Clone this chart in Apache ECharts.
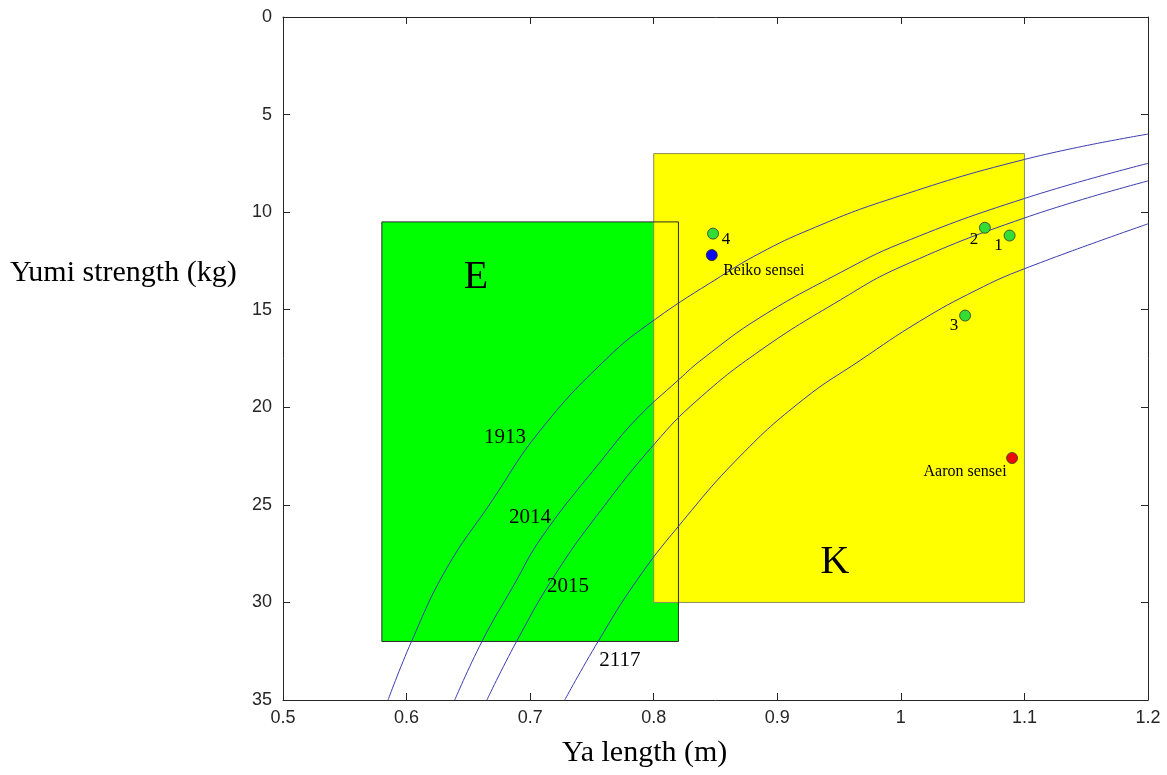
<!DOCTYPE html>
<html>
<head>
<meta charset="utf-8">
<script src="https://cdn.jsdelivr.net/npm/echarts@6/dist/echarts.min.js"></script>
<style>
html,body{margin:0;padding:0;background:#fff;}
#chart{width:1167px;height:775px;}
</style>
</head>
<body>
<div id="chart"></div>
<script>
// ---- data ----
var xTicks = [0.5, 0.6, 0.7, 0.8, 0.9, 1.0, 1.1, 1.2];
var yTicks = [0, 5, 10, 15, 20, 25, 30, 35];

var curveNames = ['1913', '2014', '2015', '2117'];
var curve1913 = [[0.585,35],[0.604,32.0],[0.632,28.3],[0.668,24.9],[0.708,21.2],[0.762,17.5],[0.801,15.5],[0.854,13.3],[0.886,12.1],[0.926,10.9],[0.988,9.4],[1.1,7.3],[1.2,6.0]];
var curve2014 = [[0.639,35],[0.661,32.0],[0.686,29.2],[0.710,26.6],[0.758,22.7],[0.786,20.6],[0.820,18.6],[0.840,17.5],[0.886,15.4],[0.951,13.1],[1.0,11.6],[1.1,9.3],[1.2,7.5]];
var curve2015 = [[0.665,35],[0.689,32.0],[0.721,28.5],[0.757,25.3],[0.801,21.85],[0.835,19.65],[0.886,17.1],[0.951,14.5],[1.0,12.8],[1.1,10.3],[1.2,8.4]];
var curve2117 = [[0.728,35],[0.755,32.0],[0.786,28.9],[0.820,26.1],[0.870,22.5],[0.921,19.6],[0.967,17.6],[1.015,15.6],[1.061,14.0],[1.1,12.9],[1.2,10.6]];
var curves = [curve1913, curve2014, curve2015, curve2117];
var curveLabelPos = [[0.6797,21.53],[0.6999,25.63],[0.7306,29.16],[0.7727,32.96]];

// rectangles: [xMin, xMax, yMin, yMax]
var rectE = [0.58, 0.82, 10.5, 32];
var rectK = [0.80, 1.10, 7, 30];
var regionLabels = ['E', 'K'];
var regionLabelPos = [[0.6562,13.33],[0.9467,27.93]];

var greenNames = ['4', '2', '1', '3'];
var greenPts = [[0.848,11.1],[1.068,10.8],[1.088,11.2],[1.052,15.3]];
var bluePt = [[0.847,12.2]];
var blueName = ['Reiko sensei'];
var redPt = [[1.090,22.6]];
var redName = ['Aaron sensei'];

// ---- styles ----
var serif = '"Liberation Serif","DejaVu Serif",serif';
var sans = '"Liberation Sans",Arial,sans-serif';
var axisCol = '#262626';
var greenLabelOffsets = [[13,6],[-11,12],[-11,10],[-11,10]];

function txt(size, extra) {
  var o = { show: true, position: 'inside', formatter: '{b}', fontFamily: serif, fontSize: size,
    color: '#000', textBorderWidth: 0, textBorderColor: 'transparent', textShadowBlur: 0, opacity: 1 };
  if (extra) for (var k in extra) o[k] = extra[k];
  return o;
}

function rectSeries(r, fill, stroke, z, noFill) {
  return {
    type: 'custom', z: z, silent: true,
    data: [r],
    clip: true,
    renderItem: function (params, api) {
      var p0 = api.coord([api.value(0), api.value(2)]);
      var p1 = api.coord([api.value(1), api.value(3)]);
      return {
        type: 'rect',
        shape: { x: Math.min(p0[0],p1[0]), y: Math.min(p0[1],p1[1]), width: Math.abs(p1[0]-p0[0]), height: Math.abs(p1[1]-p0[1]) },
        style: { fill: noFill ? 'none' : fill, stroke: stroke, lineWidth: 1 }
      };
    },
    encode: { x: [0,1], y: [2,3] }
  };
}

var series = [];
series.push(rectSeries(rectE, '#00ff00', null, 1, false));
series.push(rectSeries(rectK, '#ffff00', '#8c8a5c', 2, false));
series.push(rectSeries(rectE, null, '#2a2a2a', 3, true));

curves.forEach(function (c, i) {
  series.push({
    type: 'line', name: curveNames[i], data: c, z: 4,
    smooth: 0.45, showSymbol: false, silent: true,
    lineStyle: { color: '#3b3bb0', width: 1 }
  });
});

// curve labels
series.push({
  type: 'scatter', z: 6, silent: true, symbolSize: 0,
  itemStyle: { color: 'transparent' },
  data: curveLabelPos.map(function (p, i) { return { value: p, name: curveNames[i] }; }),
  label: txt(21)
});
// region labels
series.push({
  type: 'scatter', z: 6, silent: true, symbolSize: 0,
  itemStyle: { color: 'transparent' },
  data: regionLabelPos.map(function (p, i) { return { value: p, name: regionLabels[i] }; }),
  label: txt(40)
});

// points
series.push({
  type: 'scatter', z: 7, silent: true, symbolSize: 11,
  itemStyle: { color: '#33dd33', borderColor: '#333', borderWidth: 0.8, opacity: 1 },
  data: greenPts.map(function (p, i) {
    return { value: p, name: greenNames[i], label: txt(17, { offset: greenLabelOffsets[i] }) };
  })
});
series.push({
  type: 'scatter', z: 7, silent: true, symbolSize: 11,
  itemStyle: { color: '#0a0aee', borderColor: '#222', borderWidth: 0.8, opacity: 1 },
  data: bluePt.map(function (p, i) {
    return { value: p, name: blueName[i], label: txt(16, { offset: [52,16] }) };
  })
});
series.push({
  type: 'scatter', z: 7, silent: true, symbolSize: 11,
  itemStyle: { color: '#ee0a0a', borderColor: '#333', borderWidth: 0.8, opacity: 1 },
  data: redPt.map(function (p, i) {
    return { value: p, name: redName[i], label: txt(16, { offset: [-47,14] }) };
  })
});

function fmtX(v) { return String(+v.toFixed(1)); }

var chart = echarts.init(document.getElementById('chart'), null, { renderer: 'canvas' });
chart.setOption({
  animation: false,
  backgroundColor: '#ffffff',
  grid: { left: 283, right: 19, top: 17, bottom: 75, containLabel: false },
  xAxis: [{
    type: 'value', position: 'bottom', min: xTicks[0], max: xTicks[xTicks.length-1], interval: 0.1,
    axisLine: { show: true, onZero: false, lineStyle: { color: axisCol, width: 1 } },
    axisTick: { show: true, inside: true, length: 7, lineStyle: { color: axisCol } },
    axisLabel: { formatter: fmtX, fontFamily: sans, fontSize: 18, color: axisCol, margin: 9 },
    splitLine: { show: false }
  }, {
    type: 'value', position: 'top', min: xTicks[0], max: xTicks[xTicks.length-1], interval: 0.1,
    axisLine: { show: true, onZero: false, lineStyle: { color: axisCol, width: 1 } },
    axisTick: { show: true, inside: true, length: 7, lineStyle: { color: axisCol } },
    axisLabel: { show: false }, splitLine: { show: false }
  }],
  yAxis: [{
    type: 'value', position: 'left', inverse: true, min: yTicks[0], max: yTicks[yTicks.length-1], interval: 5,
    axisLine: { show: true, onZero: false, lineStyle: { color: axisCol, width: 1 } },
    axisTick: { show: true, inside: true, length: 7, lineStyle: { color: axisCol } },
    axisLabel: { fontFamily: sans, fontSize: 18, color: axisCol, margin: 11 },
    splitLine: { show: false }
  }, {
    type: 'value', position: 'right', inverse: true, min: yTicks[0], max: yTicks[yTicks.length-1], interval: 5,
    axisLine: { show: true, onZero: false, lineStyle: { color: axisCol, width: 1 } },
    axisTick: { show: true, inside: true, length: 7, lineStyle: { color: axisCol } },
    axisLabel: { show: false }, splitLine: { show: false }
  }],
  graphic: [
    { type: 'text', left: 10, top: 258, z: 10,
      style: { text: 'Yumi strength (kg)', font: '30px ' + serif, fill: '#000' } },
    { type: 'text', left: 562, top: 738, z: 10,
      style: { text: 'Ya length (m)', font: '30px ' + serif, fill: '#000' } }
  ],
  series: series
});
</script>
</body>
</html>
